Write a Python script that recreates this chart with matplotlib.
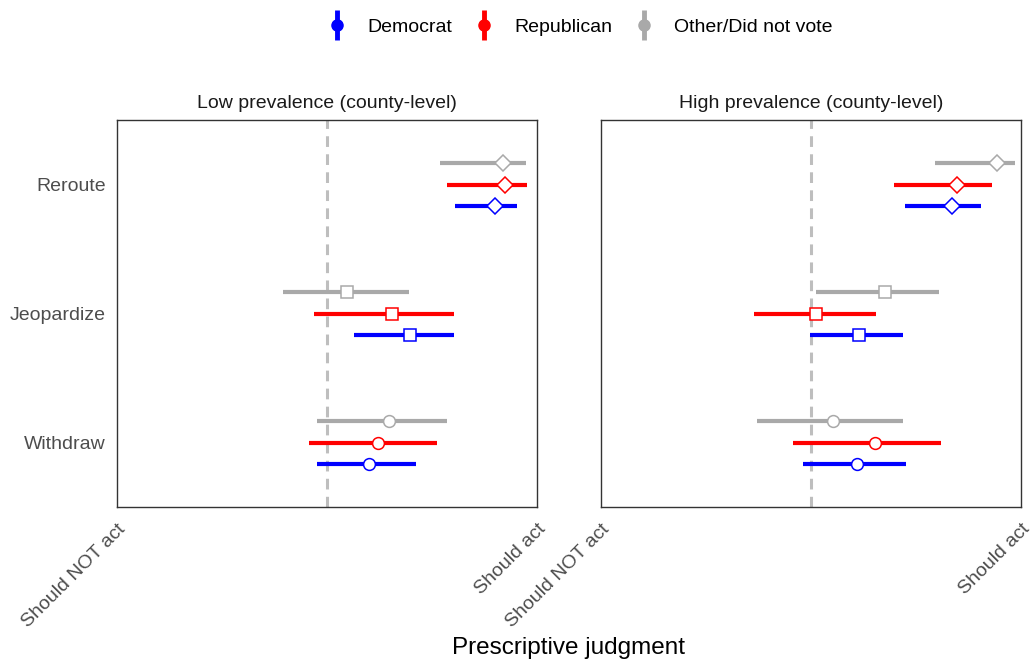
import numpy as np
import matplotlib
matplotlib.use('Agg')
import matplotlib.pyplot as plt
from matplotlib.lines import Line2D
from matplotlib.legend_handler import HandlerTuple

plt.rcParams['font.family'] = ['Liberation Sans', 'DejaVu Sans']

# data: point estimate, lower and upper bound (1 = Should NOT act, 7 = Should act)
actions = ["Withdraw", "Jeopardize", "Reroute"]
groups = ["Democrat", "Republican", "Other/Did not vote"]
panels = ["Low prevalence (county-level)", "High prevalence (county-level)"]

# rows = actions (Withdraw, Jeopardize, Reroute), cols = groups
low_est = [[4.60, 4.73, 4.88], [5.18, 4.93, 4.29], [6.40, 6.54, 6.51]]
low_lo = [[3.86, 3.74, 3.85], [4.39, 3.81, 3.37], [5.83, 5.72, 5.62]]
low_hi = [[5.27, 5.57, 5.72], [5.81, 5.82, 5.17], [6.71, 6.85, 6.84]]

high_est = [[4.66, 4.92, 4.31], [4.69, 4.07, 5.05], [6.01, 6.09, 6.65]]
high_lo = [[3.89, 3.74, 3.23], [3.98, 3.19, 4.07], [5.34, 5.18, 5.77]]
high_hi = [[5.35, 5.86, 5.31], [5.32, 4.93, 5.83], [6.43, 6.58, 6.91]]

xtick_vals = [1, 7]
xtick_labels = ["Should NOT act", "Should act"]

colors = ["#0000FF", "#FF0000", "#A9A9A9"]
markers = ["o", "s", "D"]
msizes = [8.5, 8, 8.3]
offsets = [-0.165, 0, 0.165]

fig = plt.figure(figsize=(10.35, 6.62), dpi=100)
ax1 = fig.add_axes([117/1035, 155/662, 420/1035, 387/662])
ax2 = fig.add_axes([601/1035, 155/662, 420/1035, 387/662])

data = [(low_est, low_lo, low_hi), (high_est, high_lo, high_hi)]
for k, ax in enumerate([ax1, ax2]):
    est, lo, hi = [np.array(d) for d in data[k]]
    ax.axvline(4, color="#BEBEBE", lw=2.2, dashes=(3.5, 2.4), zorder=1)
    for i in range(len(actions)):
        for j in [2, 1, 0]:
            y = i + 1 + offsets[j]
            ax.plot([lo[i, j], hi[i, j]], [y, y], color=colors[j], lw=3,
                    solid_capstyle='butt', zorder=2)
            ax.plot(est[i, j], y, marker=markers[i], ms=msizes[i], mfc="white",
                    mec=colors[j], mew=1.1, zorder=3)
    ax.set_xlim(1, 7)
    ax.set_ylim(0.5, 3.5)
    ax.set_xticks(xtick_vals)
    ax.set_xticklabels(xtick_labels, rotation=45, ha='right', va='top',
                       rotation_mode='anchor', fontsize=14, color="#4D4D4D")
    ax.set_yticks([1, 2, 3])
    if k == 0:
        ax.set_yticklabels(actions, fontsize=14, color="#4D4D4D")
    else:
        ax.set_yticklabels([])
    ax.tick_params(axis='x', length=0, pad=10)
    ax.tick_params(axis='y', length=0, pad=8)
    for s in ax.spines.values():
        s.set_color("#333333")
        s.set_linewidth(1.0)
    ax.set_title(panels[k], fontsize=14, color="#1A1A1A", pad=9)

fig.text(569/1035, 1 - 648/662, "Prescriptive judgment", fontsize=17.5,
         ha='center', va='center')

# legend
handles = []
for j in range(len(groups)):
    vline = Line2D([], [], color=colors[j], marker='|', ms=22, mew=3.5, ls='none')
    dot = Line2D([], [], color=colors[j], marker='o', ms=8, ls='none')
    handles.append((vline, dot))
fig.legend(handles, groups, handler_map={tuple: HandlerTuple(ndivide=1)},
           loc='center', bbox_to_anchor=(580/1035, 1 - 27/662), ncol=3,
           frameon=False, fontsize=14, handlelength=1.0, columnspacing=1.15,
           handletextpad=1.05)

plt.savefig('out.png', dpi=100)
